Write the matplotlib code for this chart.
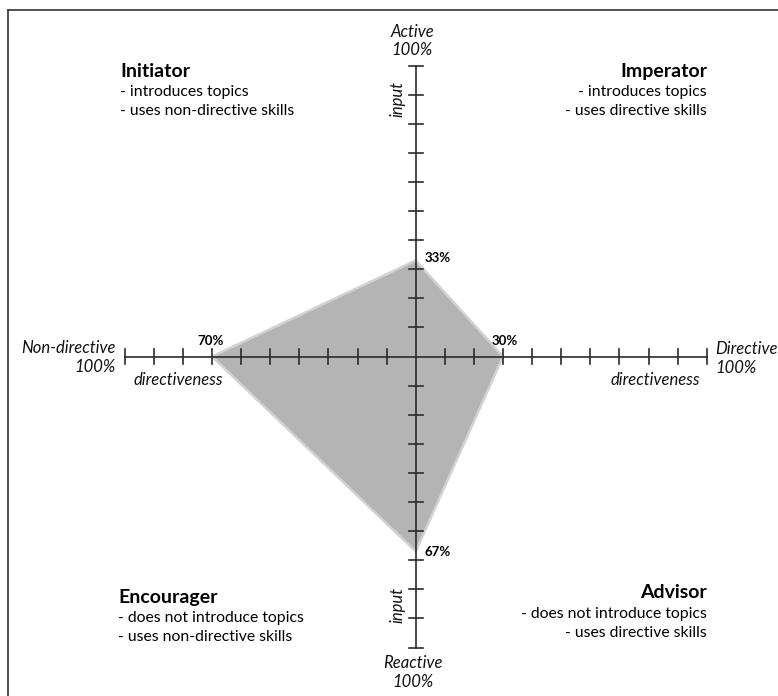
import numpy as np
import matplotlib.pyplot as plt
from matplotlib.patches import Polygon

plt.rcParams['font.family'] = ['Lato', 'DejaVu Sans']

# percentages
directive = 30
non_directive = 70
active = 33
reactive = 67
tick_steps = np.arange(10, 101, 10)

quadrants = [
    ('Initiator', ['- introduces topics', '- uses non-directive skills'], 'left'),
    ('Imperator', ['- introduces topics', '- uses directive skills'], 'right'),
    ('Encourager', ['- does not introduce topics', '- uses non-directive skills'], 'left'),
    ('Advisor', ['- does not introduce topics', '- uses directive skills'], 'right'),
]

W, H = 778, 696
cx, cy = 415.7, 356.5   # pixel centre of the cross
scale = 2.91            # pixels per percent

fig = plt.figure(figsize=(W / 100, H / 100), dpi=100)
ax = fig.add_axes([0, 0, 1, 1])
ax.set_xlim(-cx / scale, (W - cx) / scale)
ax.set_ylim(-(H - cy) / scale, cy / scale)
ax.axis('off')

def px(x, y):
    # pixel position -> data units
    return (x - cx) / scale, (cy - y) / scale

# frame (top and left edge)
fig.add_artist(plt.Line2D([8 / W, 1], [1 - 10 / H, 1 - 10 / H], color='#333333', lw=1.2))
fig.add_artist(plt.Line2D([8 / W, 8 / W], [0, 1 - 10 / H], color='#333333', lw=1.2))

# polygon
verts = [(directive, 0), (0, active), (-non_directive, 0), (0, -reactive)]
ax.add_patch(Polygon(verts, closed=True, facecolor='#b4b4b4', edgecolor='#d2d2d2',
                     lw=1.8, zorder=1))

# axes cross
axc = '#2a2a2a'
ax.plot([-100, 100], [0, 0], color=axc, lw=1.2, zorder=2)
ax.plot([0, 0], [-100, 100], color=axc, lw=1.2, zorder=2)
tl = 7.2 / scale
for t in tick_steps:
    for s in (-1, 1):
        ax.plot([s * t, s * t], [-tl, tl], color=axc, lw=1.2, zorder=2)
        ax.plot([-tl, tl], [s * t, s * t], color=axc, lw=1.2, zorder=2)

# value labels
fs_val = 9.5
ax.text(directive + 0.5, 3.2, f'{directive}%', fontsize=fs_val, fontweight='bold',
        ha='center', va='bottom')
ax.text(-non_directive - 0.5, 3.2, f'{non_directive}%', fontsize=fs_val, fontweight='bold',
        ha='center', va='bottom')
ax.text(2.9, active + 0.7, f'{active}%', fontsize=fs_val, fontweight='bold',
        ha='left', va='center')
ax.text(2.9, -reactive - 0.3, f'{reactive}%', fontsize=fs_val, fontweight='bold',
        ha='left', va='center')

# axis end labels
fs_ax = 12
ital = dict(fontsize=fs_ax, style='italic', color='#111111')
ax.text(*px(412, 32), 'Active', ha='center', va='center', **ital)
ax.text(*px(412, 50), '100%', ha='center', va='center', **ital)
ax.text(*px(413, 663), 'Reactive', ha='center', va='center', **ital)
ax.text(*px(413, 682), '100%', ha='center', va='center', **ital)
ax.text(*px(116, 348), 'Non-directive', ha='right', va='center', **ital)
ax.text(*px(116, 367), '100%', ha='right', va='center', **ital)
ax.text(*px(715, 349), 'Directive', ha='left', va='center', **ital)
ax.text(*px(715, 368), '100%', ha='left', va='center', **ital)
ax.text(*px(178, 380), 'directiveness', ha='center', va='center', **ital)
ax.text(*px(655, 380), 'directiveness', ha='center', va='center', **ital)
ax.text(*px(397, 99), 'input', ha='center', va='center', rotation=90, **ital)
ax.text(*px(397, 605), 'input', ha='center', va='center', rotation=90, **ital)

# quadrant descriptions
quad_pos = [(120, 71), (707, 71), (118, 597), (707, 593)]
for (title, lines, ha), (x, y) in zip(quadrants, quad_pos):
    ax.text(*px(x, y), title, fontsize=14, fontweight='bold', ha=ha, va='center')
    for i, ln in enumerate(lines):
        ax.text(*px(x, y + 21 + i * 19), ln, fontsize=11.3, ha=ha, va='center')

plt.savefig('out.png', dpi=100)
